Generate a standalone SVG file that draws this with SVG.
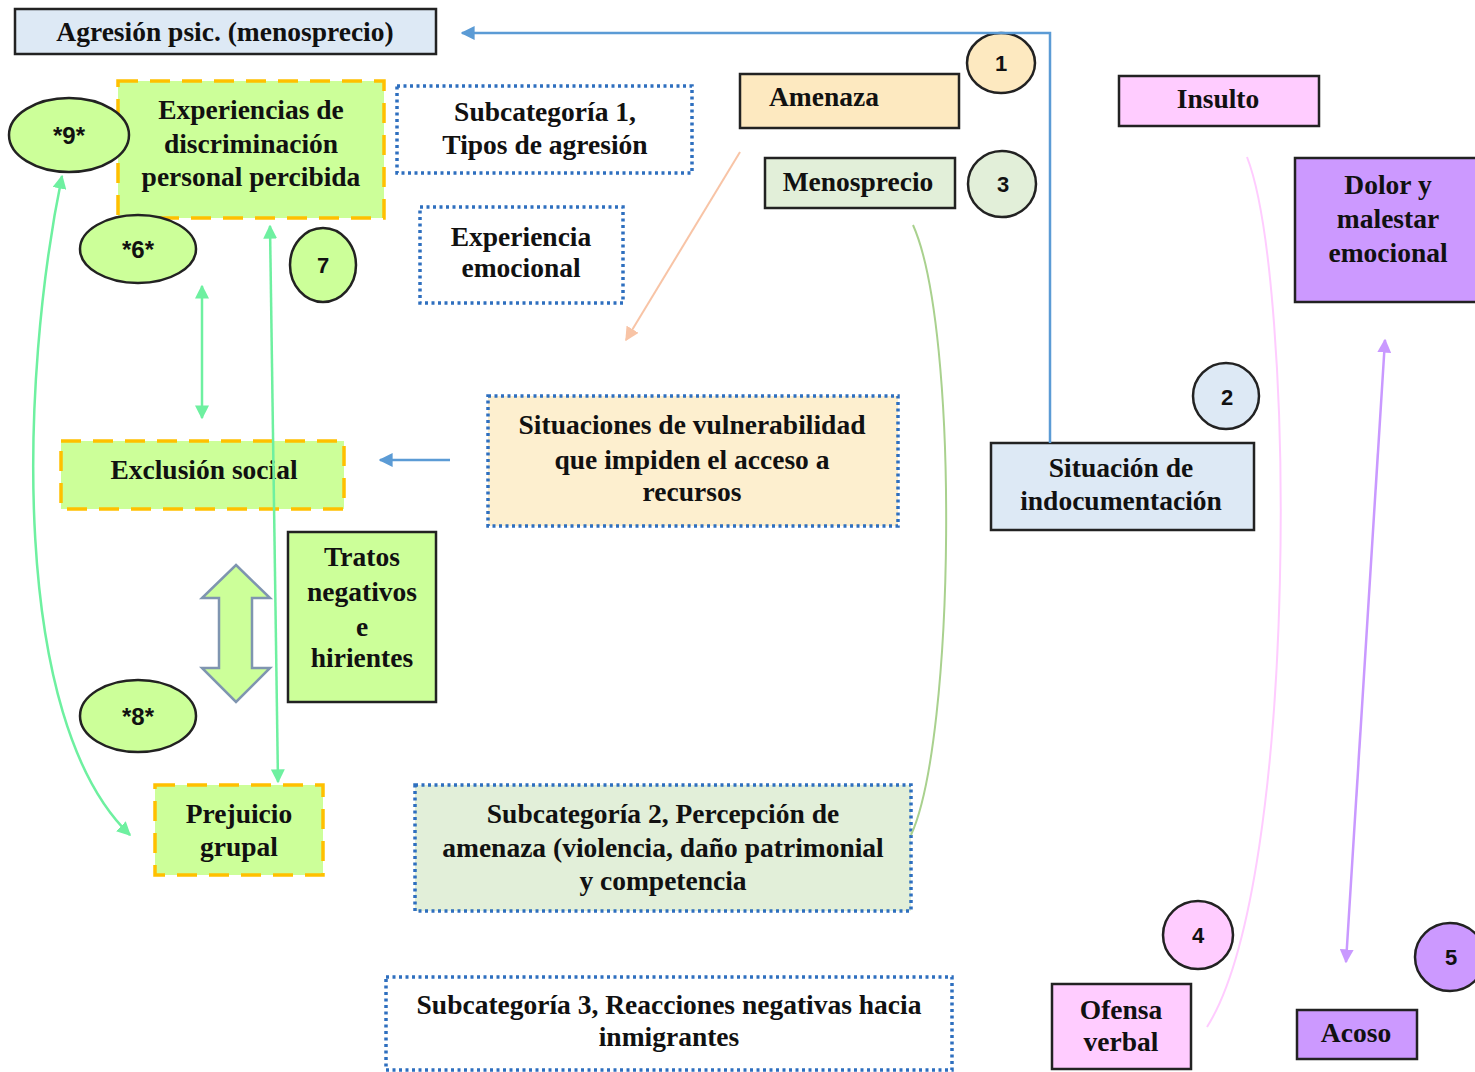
<svg xmlns="http://www.w3.org/2000/svg" width="1475" height="1072" viewBox="0 0 1475 1072">
<style>
.t{font-family:"Liberation Serif","Times New Roman",serif;font-weight:bold;font-size:27.5px;fill:#111;text-anchor:middle}
.n{font-family:"Liberation Sans",Arial,sans-serif;font-weight:bold;font-size:22px;fill:#111;text-anchor:middle}
.s{font-family:"Liberation Sans",Arial,sans-serif;font-weight:bold;font-size:24px;fill:#111;text-anchor:middle}
.solid{stroke:#222;stroke-width:2.5}
.dash{stroke:#ffc000;stroke-width:3.5;stroke-dasharray:20 12}
.dot{stroke:#2e6fbf;stroke-width:3.5;stroke-dasharray:3 3.5}
.c{stroke:#222;stroke-width:2.5}
.gr{fill:#ccff99}
.bl{fill:#dde9f5}
.or{fill:#fde9c0}
.lg{fill:#e2efd9}
.pk{fill:#ffccff}
.pu{fill:#cc99ff}
</style>
<defs>
<marker id="ag" viewBox="0 0 10 10" refX="9" refY="5" markerWidth="14" markerHeight="14" markerUnits="userSpaceOnUse" orient="auto-start-reverse"><path d="M0,0 L10,5 L0,10 z" fill="#6ef0a0"/></marker>
<marker id="ab" viewBox="0 0 10 10" refX="9" refY="5" markerWidth="14" markerHeight="14" markerUnits="userSpaceOnUse" orient="auto-start-reverse"><path d="M0,0 L10,5 L0,10 z" fill="#5b9bd5"/></marker>
<marker id="ao" viewBox="0 0 10 10" refX="9" refY="5" markerWidth="14" markerHeight="14" markerUnits="userSpaceOnUse" orient="auto-start-reverse"><path d="M0,0 L10,5 L0,10 z" fill="#f8c4a6"/></marker>
<marker id="ap" viewBox="0 0 10 10" refX="9" refY="5" markerWidth="14" markerHeight="14" markerUnits="userSpaceOnUse" orient="auto-start-reverse"><path d="M0,0 L10,5 L0,10 z" fill="#c999ff"/></marker>
</defs>
<rect width="1475" height="1072" fill="#fff"/>

<g id="agresion"><rect x="15" y="9" width="421" height="45" class="bl solid"/><text class="t" x="225" y="41">Agresión psic. (menosprecio)</text></g>
<g id="n1"><ellipse cx="1001" cy="63" rx="34" ry="30" class="or c"/><text class="n" x="1001" y="71">1</text></g>
<g id="amenaza"><rect x="740" y="74" width="219" height="54" class="or solid"/><text class="t" x="824" y="106">Amenaza</text></g>
<g id="menosprecio"><rect x="765" y="158" width="190" height="50" class="lg solid"/><text class="t" x="858" y="191">Menosprecio</text></g>
<g id="n3"><ellipse cx="1002" cy="184" rx="34" ry="33" class="lg c"/><text class="n" x="1003" y="192">3</text></g>
<g id="insulto"><rect x="1119" y="76" width="200" height="50" class="pk solid"/><text class="t" x="1218" y="108">Insulto</text></g>
<g id="dolor"><rect x="1295" y="158" width="185" height="144" class="pu solid"/><text class="t" x="1388" y="194">Dolor y</text><text class="t" x="1388" y="228">malestar</text><text class="t" x="1388" y="262">emocional</text></g>
<g id="n2"><ellipse cx="1226" cy="396" rx="33" ry="33" class="bl c"/><text class="n" x="1227" y="405">2</text></g>
<g id="indoc"><rect x="991" y="443" width="263" height="87" class="bl solid"/><text class="t" x="1121" y="477">Situación de</text><text class="t" x="1121" y="510">indocumentación</text></g>
<g id="n4"><ellipse cx="1198" cy="935" rx="35" ry="34" class="pk c"/><text class="n" x="1198" y="943">4</text></g>
<g id="n5"><ellipse cx="1450" cy="957" rx="35" ry="34" class="pu c"/><text class="n" x="1451" y="965">5</text></g>
<g id="ofensa"><rect x="1052" y="984" width="139" height="85" class="pk solid"/><text class="t" x="1121" y="1019">Ofensa</text><text class="t" x="1121" y="1051">verbal</text></g>
<g id="acoso"><rect x="1297" y="1010" width="120" height="49" class="pu solid"/><text class="t" x="1356" y="1042">Acoso</text></g>

<g id="sub1"><rect x="397" y="86" width="295" height="87" fill="#fff" class="dot"/><text class="t" x="545" y="121">Subcategoría 1,</text><text class="t" x="545" y="154">Tipos de agresión</text></g>
<g id="expemo"><rect x="420" y="207" width="203" height="96" fill="#fff" class="dot"/><text class="t" x="521" y="246">Experiencia</text><text class="t" x="521" y="277">emocional</text></g>
<g id="vulner"><rect x="488" y="396" width="410" height="130" fill="#fdefcf" class="dot"/><text class="t" x="692" y="434">Situaciones de vulnerabilidad</text><text class="t" x="692" y="469">que impiden el acceso a</text><text class="t" x="692" y="501">recursos</text></g>
<g id="sub2"><rect x="415" y="785" width="496" height="126" class="lg dot"/><text class="t" x="663" y="823">Subcategoría 2, Percepción de</text><text class="t" x="663" y="857">amenaza (violencia, daño patrimonial</text><text class="t" x="663" y="890">y competencia</text></g>
<g id="sub3"><rect x="386" y="977" width="566" height="93" fill="#fff" class="dot"/><text class="t" x="669" y="1014">Subcategoría 3, Reacciones negativas hacia</text><text class="t" x="669" y="1046">inmigrantes</text></g>

<g id="experiencias"><rect x="118" y="81" width="266" height="137" class="gr dash"/><text class="t" x="251" y="119">Experiencias de</text><text class="t" x="251" y="153">discriminación</text><text class="t" x="251" y="186">personal percibida</text></g>
<g id="n9"><ellipse cx="69" cy="135" rx="60" ry="37" class="gr c"/><text class="s" x="69" y="144">*9*</text></g>
<g id="n6"><ellipse cx="138" cy="249" rx="58" ry="34" class="gr c"/><text class="s" x="138" y="258">*6*</text></g>
<g id="n7"><ellipse cx="323" cy="265" rx="33" ry="37" class="gr c"/><text class="n" x="323" y="273">7</text></g>
<g id="exclusion"><rect x="61" y="441" width="283" height="68" class="gr dash"/><text class="t" x="204" y="479">Exclusión social</text></g>
<g id="tratos"><rect x="288" y="532" width="148" height="170" class="gr solid"/><text class="t" x="362" y="566">Tratos</text><text class="t" x="362" y="601">negativos</text><text class="t" x="362" y="636">e</text><text class="t" x="362" y="667">hirientes</text></g>
<g id="n8"><ellipse cx="138" cy="716" rx="58" ry="36" class="gr c"/><text class="s" x="138" y="725">*8*</text></g>
<g id="prejuicio"><rect x="155" y="785" width="168" height="90" class="gr dash"/><text class="t" x="239" y="823">Prejuicio</text><text class="t" x="239" y="856">grupal</text></g>

<g id="connectors" fill="none">
<path d="M1050,443 L1050,33 L462,33" stroke="#5b9bd5" stroke-width="2.5" marker-end="url(#ab)"/>
<path d="M450,460 L380,460" stroke="#5b9bd5" stroke-width="2.5" marker-end="url(#ab)"/>
<path d="M740,152 L626,340" stroke="#f8c4a6" stroke-width="2" marker-end="url(#ao)"/>
<path d="M913,225 C960,330 955,740 911,835" stroke="#a9d18e" stroke-width="2"/>
<path d="M1247,157 C1295,280 1300,880 1207,1027" stroke="#ffccff" stroke-width="2"/>
<path d="M1385,340 L1346,962" stroke="#c999ff" stroke-width="2.5" marker-start="url(#ap)" marker-end="url(#ap)"/>
<path d="M202,286 L202,418" stroke="#6ef0a0" stroke-width="2.5" marker-start="url(#ag)" marker-end="url(#ag)"/>
<path d="M270,226 L278,782" stroke="#6ef0a0" stroke-width="2.5" marker-start="url(#ag)" marker-end="url(#ag)"/>
<path d="M62,176 C20,380 10,720 130,835" stroke="#6ef0a0" stroke-width="2.5" marker-start="url(#ag)" marker-end="url(#ag)"/>
<path d="M236,565 L270,598 L252,598 L252,668 L270,668 L236,702 L202,668 L219,668 L219,598 L202,598 Z" fill="#ccff99" stroke="#7f95b0" stroke-width="2.5"/>
</g>
</svg>
